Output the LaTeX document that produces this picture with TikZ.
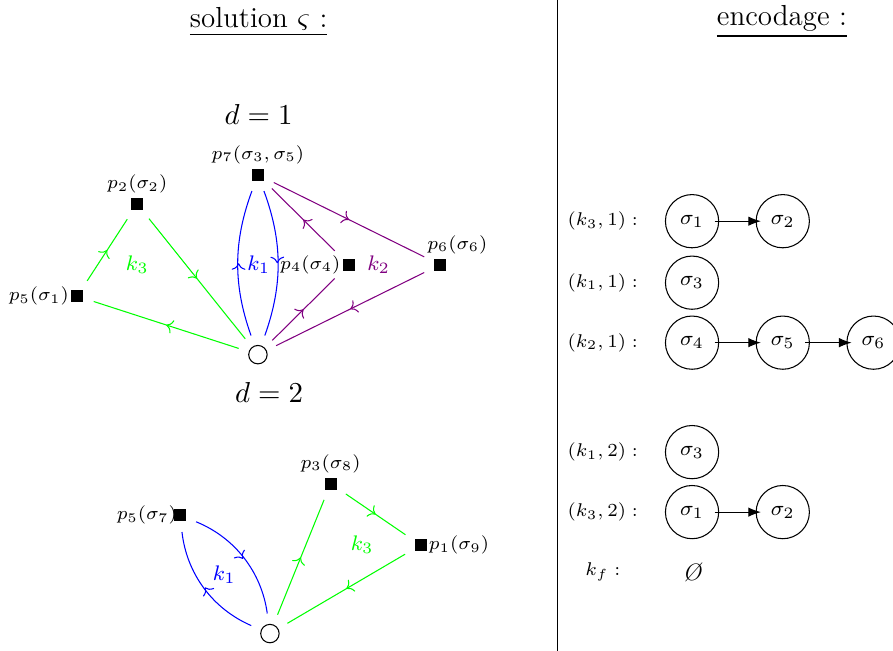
\documentclass[tikz,border=0pt]{standalone}
\usepackage{amsmath, amssymb}
\usepackage{tikz}
\usetikzlibrary{arrows.meta, positioning, decorations.markings}
\usepackage{xcolor}
\definecolor{tourvert}{HTML}{00FF00}
\definecolor{tourbleu}{HTML}{0000FF}
\definecolor{tourviolet}{HTML}{800080}

\begin{document}
\begin{tikzpicture}[
    client/.style={fill=black, minimum size=4.5pt, inner sep=0pt},
    every label/.style={font=\scriptsize, inner xsep=0.5pt, inner ysep=1.5pt},
    depot/.style={circle, draw, minimum size=7pt, inner sep=0pt},
    fleche/.style={shorten <=4pt, shorten >=4pt, postaction={decorate},
                   decoration={markings, mark=at position 0.5 with {\arrow{To}}}},
    titre/.style={font=\fontsize{11}{13}\selectfont},
    cle/.style={font=\footnotesize},
    etiq/.style={font=\scriptsize},
    etat/.style={circle, draw, minimum size=0.71cm, inner sep=0pt,
                 font=\footnotesize},
    lien/.style={-{Latex}, shorten <=-1.7pt, shorten >=-2pt}
  ]
    \clip (0, 0) rectangle (11.91, 8.68);

    % titres et separation
    \node[titre] (titreg) at (3.45, 8.39) {\underline{solution $\varsigma$ :}};
    \node[titre] (titred) at (10.43, 8.39) {\underline{encodage :}};
    \draw (7.43, 0) -- (7.43, 8.68);

    % jour d = 1
    \node[titre] (jour1) at (3.45, 7.15) {$d=1$};
    \node[client, label=above:{$p_7(\sigma_3,\sigma_5)$}] (p7) at (3.44, 6.35) {};
    \node[client, label=above:{$p_2(\sigma_2)$}] (p2) at (1.83, 5.96) {};
    \node[client, label=left:{$p_5(\sigma_1)$}] (p5) at (1.03, 4.73) {};
    \node[client, label=left:{$p_4(\sigma_4)$}] (p4) at (4.65, 5.15) {};
    \node[client, label={[xshift=0.23cm]above:{$p_6(\sigma_6)$}}] (p6)
      at (5.87, 5.15) {};
    \node[depot] (o1) at (3.44, 3.95) {};

    \draw[tourvert, fleche] (o1) -- (p5);
    \draw[tourvert, fleche] (p5) -- (p2);
    \draw[tourvert, fleche] (p2) -- (o1);
    \draw[tourbleu, fleche] (o1) to[bend left=20] (p7);
    \draw[tourbleu, fleche] (p7) to[bend left=20] (o1);
    \draw[tourviolet, fleche] (o1) -- (p4);
    \draw[tourviolet, fleche] (p4) -- (p7);
    \draw[tourviolet, fleche] (p7) -- (p6);
    \draw[tourviolet, fleche] (p6) -- (o1);

    \node[cle, tourvert] (k3a) at (1.83, 5.15) {$k_3$};
    \node[cle, tourbleu] (k1a) at (3.45, 5.15) {$k_1$};
    \node[cle, tourviolet] (k2a) at (5.05, 5.15) {$k_2$};

    % jour d = 2
    \node[titre] (jour2) at (3.59, 3.44) {$d=2$};
    \node[client, label={[xshift=2pt]left:{$p_5(\sigma_7)$}}] (q5)
      at (2.40, 1.81) {};
    \node[client, label=above:{$p_3(\sigma_8)$}] (q3) at (4.41, 2.23) {};
    \node[client, label=right:{$p_1(\sigma_9)$}] (q1) at (5.61, 1.41) {};
    \node[depot] (o2) at (3.60, 0.23) {};

    \draw[tourbleu, fleche] (o2) to[bend left=30] (q5);
    \draw[tourbleu, fleche] (q5) to[bend left=30] (o2);
    \draw[tourvert, fleche] (o2) -- (q3);
    \draw[tourvert, fleche] (q3) -- (q1);
    \draw[tourvert, fleche] (q1) -- (o2);

    \node[cle, tourbleu] (k1b) at (2.99, 1.01) {$k_1$};
    \node[cle, tourvert] (k3b) at (4.83, 1.41) {$k_3$};

    % encodage
    \node[etiq] (e1) at (8.04, 5.73) {$(k_3,1) :$};
    \node[etat] (a1) at (9.23, 5.73) {$\sigma_1$};
    \node[etat] (a2) at (10.44, 5.73) {$\sigma_2$};
    \draw[lien] (a1) -- (a2);

    \node[etiq] (e2) at (8.04, 4.91) {$(k_1,1) :$};
    \node[etat] (b1) at (9.23, 4.91) {$\sigma_3$};

    \node[etiq] (e3) at (8.04, 4.11) {$(k_2,1) :$};
    \node[etat] (c1) at (9.23, 4.11) {$\sigma_4$};
    \node[etat] (c2) at (10.44, 4.11) {$\sigma_5$};
    \node[etat] (c3) at (11.65, 4.11) {$\sigma_6$};
    \draw[lien] (c1) -- (c2);
    \draw[lien] (c2) -- (c3);

    \node[etiq] (e4) at (8.04, 2.65) {$(k_1,2) :$};
    \node[etat] (f1) at (9.23, 2.65) {$\sigma_3$};

    \node[etiq] (e5) at (8.04, 1.85) {$(k_3,2) :$};
    \node[etat] (g1) at (9.23, 1.85) {$\sigma_1$};
    \node[etat] (g2) at (10.44, 1.85) {$\sigma_2$};
    \draw[lien] (g1) -- (g2);

    \node[etiq] (e6) at (8.04, 1.05) {$k_f :$};
    \node[font=\small\itshape] (vide) at (9.23, 1.05) {\O};
  \end{tikzpicture}
\end{document}
